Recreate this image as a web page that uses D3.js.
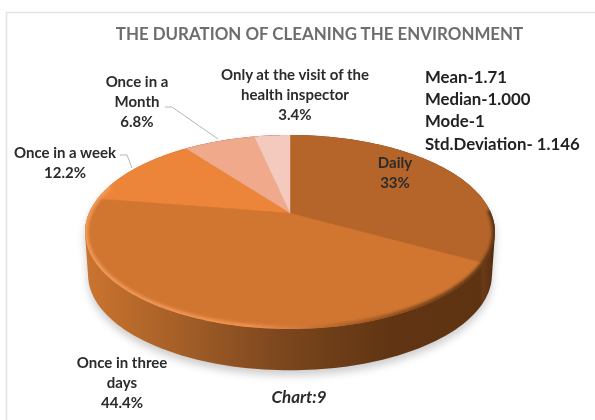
<!DOCTYPE html>
<html>
<head>
<meta charset="utf-8">
<script src="https://cdn.jsdelivr.net/npm/d3@7"></script>
<style>
  html, body { margin: 0; padding: 0; background: #fff; }
  svg { display: block; filter: blur(0.45px); font-family: Lato, "Open Sans", sans-serif; }
</style>
</head>
<body>
<svg width="595" height="420"></svg>
<script>
// data
const categories = ['Daily', 'Once in three days', 'Once in a week', 'Once in a Month', 'Only at the visit of the health inspector'];
const values = [33, 44.4, 12.2, 6.8, 3.4];
const valueLabels = ['33%', '44.4%', '12.2%', '6.8%', '3.4%'];
const sliceColors = ['#b5652a', '#d07631', '#ec8539', '#f0a98a', '#f3cabd'];
const statLines = ['Mean-1.71', 'Median-1.000', 'Mode-1', 'Std.Deviation- 1.146'];

const titleText = 'THE DURATION OF CLEANING THE ENVIRONMENT';
const captionText = 'Chart:9';

// where the wrapped label of each slice sits: centre x, first line y
const labelLines = [['Daily'], ['Once in three', 'days'], ['Once in a week'], ['Once in a', 'Month'], ['Only at the visit of the', 'health inspector']];
const labelPos = [[395, 163], [122, 363], [65, 153], [137, 82], [295, 75]];

const svg = d3.select('svg');
const defs = svg.append('defs');

// perspective of the disc, the near side is drawn bigger than the far side
const apexX = 290, apexY = 213;
const a = 201, b = 93.3, k = 0.196;
function project(angle) {
  const u = Math.sin(angle), v = -Math.cos(angle);
  const w = 1 - k * v;
  return [apexX + a * u / w, apexY + b * v / w];
}
// bottom disc of the cake
const bottomScale = 0.985, depth = 43;
function lower(p) {
  return [apexX + (p[0] - apexX) * bottomScale, apexY + (p[1] - apexY) * bottomScale + depth];
}

const pie = d3.pie().sort(null).value(d => d);
const slices = pie(values);
const line = d3.line();

const sampleAngles = (from, to, n) => d3.range(n + 1).map(i => from + (to - from) * i / n);
const rim = sampleAngles(0, 2 * Math.PI, 240).map(project);
const body = d3.polygonHull(rim.concat(rim.map(lower)));

// frame
svg.append('path')
  .attr('d', 'M6.5,420V12.5H595')
  .attr('fill', 'none')
  .attr('stroke', '#e3e3e3')
  .attr('stroke-width', 1.6);

// blurs
defs.append('filter').attr('id', 'soft').attr('x', '-10%').attr('y', '-10%').attr('width', '120%').attr('height', '120%')
  .append('feGaussianBlur').attr('stdDeviation', 4);
defs.append('filter').attr('id', 'bevel').attr('x', '-10%').attr('y', '-10%').attr('width', '120%').attr('height', '120%')
  .append('feGaussianBlur').attr('stdDeviation', 1.8);

// wall shading runs left to right
const wallGrad = defs.append('linearGradient').attr('id', 'wall')
  .attr('gradientUnits', 'userSpaceOnUse')
  .attr('x1', 85).attr('x2', 495).attr('y1', 0).attr('y2', 0);
const wallStops = [[85, '#cc7430'], [130, '#b96a2b'], [200, '#9c5a26'], [270, '#80491f'], [330, '#6e3e18'], [390, '#613513'], [480, '#5e3312'], [483, '#6a3a16'], [490, '#5c3212'], [495, '#47260b']];
wallGrad.selectAll('stop').data(wallStops).enter().append('stop')
  .attr('offset', d => (d[0] - 85) / 410)
  .attr('stop-color', d => d[1]);

// rim highlight, light on the left and dark on the right
const rimGrad = defs.append('linearGradient').attr('id', 'rimShade')
  .attr('gradientUnits', 'userSpaceOnUse')
  .attr('x1', 85).attr('x2', 495).attr('y1', 0).attr('y2', 0);
const rimStops = [[85, '#f29a5a'], [250, '#f0914f'], [340, '#b5652a'], [420, '#7d4519'], [495, '#5a3111']];
rimGrad.selectAll('stop').data(rimStops).enter().append('stop')
  .attr('offset', d => (d[0] - 85) / 410)
  .attr('stop-color', d => d[1]);

// shadow under the cake
svg.append('path')
  .attr('d', line(body) + 'Z')
  .attr('transform', 'translate(0,5)')
  .attr('fill', '#000')
  .attr('opacity', 0.2)
  .attr('filter', 'url(#soft)');

svg.append('path')
  .attr('d', line(body) + 'Z')
  .attr('fill', 'url(#wall)');

// top of the disc
defs.append('clipPath').attr('id', 'topClip')
  .append('path').attr('d', line(rim) + 'Z');

function slicePath(d) {
  const n = Math.max(4, Math.ceil((d.endAngle - d.startAngle) * 60));
  const pts = sampleAngles(d.startAngle, d.endAngle, n).map(project);
  return line([[apexX, apexY]].concat(pts)) + 'Z';
}

const topFace = svg.append('g').attr('clip-path', 'url(#topClip)');
topFace.selectAll('path.slice')
  .data(slices)
  .enter()
  .append('path')
  .attr('class', 'slice')
  .attr('d', slicePath)
  .attr('fill', (d, i) => sliceColors[i])
  .attr('stroke', (d, i) => sliceColors[i])
  .attr('stroke-width', 0.4);

// bevel along the front edge only
const frontRim = sampleAngles(Math.PI * 0.49, Math.PI * 1.6, 140).map(project);
topFace.append('path')
  .attr('d', line(frontRim))
  .attr('fill', 'none')
  .attr('stroke', 'url(#rimShade)')
  .attr('stroke-width', 6)
  .attr('filter', 'url(#bevel)');

// leader lines
const leaders = [[[120, 155], [127, 155], [132, 168]], [[165, 107], [172, 107], [218, 139]]];
svg.selectAll('path.leader')
  .data(leaders)
  .enter()
  .append('path')
  .attr('class', 'leader')
  .attr('d', d => line(d))
  .attr('fill', 'none')
  .attr('stroke', '#b5b5b5')
  .attr('stroke-width', 1);

// title
svg.append('text')
  .attr('x', 319.5)
  .attr('y', 40)
  .attr('text-anchor', 'middle')
  .attr('font-size', 16.9)
  .attr('font-weight', 700)
  .attr('fill', '#6d6d6d')
  .text(titleText);

// slice labels
const labels = svg.selectAll('g.label')
  .data(categories)
  .enter()
  .append('g')
  .attr('class', 'label')
  .attr('text-anchor', 'middle')
  .attr('font-size', 15)
  .attr('font-weight', 700)
  .attr('fill', '#2b2b2b');

labels.each(function (d, i) {
  const rows = labelLines[i].concat(valueLabels[i]);
  d3.select(this).selectAll('text')
    .data(rows)
    .enter()
    .append('text')
    .attr('x', labelPos[i][0])
    .attr('y', (r, j) => labelPos[i][1] + 5 + j * 20)
    .text(r => r);
});

// stats block
svg.selectAll('text.stat')
  .data(statLines)
  .enter()
  .append('text')
  .attr('class', 'stat')
  .attr('x', 425)
  .attr('y', (d, i) => 83 + i * 22.2)
  .attr('font-size', 16.8)
  .attr('font-weight', 700)
  .attr('fill', '#222')
  .text(d => d);

// caption
svg.append('text')
  .attr('x', 299)
  .attr('y', 402.5)
  .attr('text-anchor', 'middle')
  .attr('font-size', 17)
  .attr('font-weight', 700)
  .attr('font-style', 'italic')
  .attr('fill', '#2b2b2b')
  .text(captionText);
</script>
</body>
</html>
